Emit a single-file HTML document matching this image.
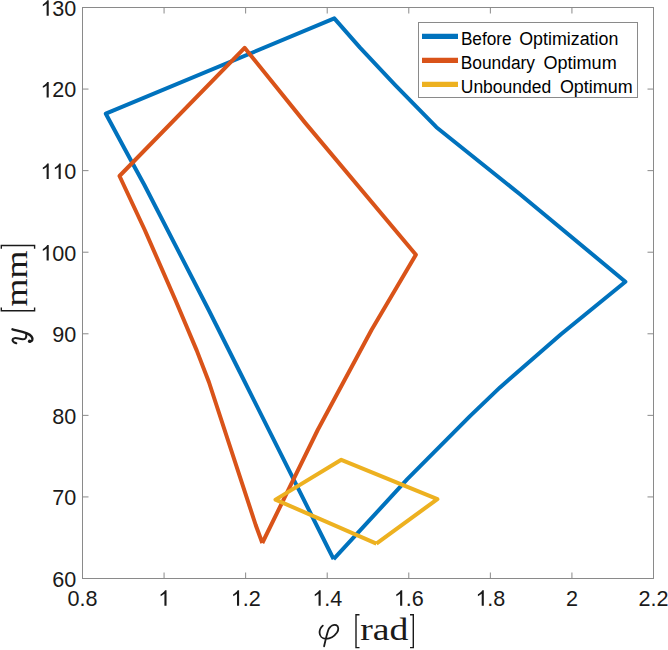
<!DOCTYPE html>
<html><head><meta charset="utf-8">
<style>
html,body{margin:0;padding:0;background:#fff;}
body{width:668px;height:650px;overflow:hidden;position:relative;}
svg{position:absolute;left:0;top:0;}
.t{font-family:"Liberation Sans",sans-serif;font-size:21.6px;fill:#1a1a1a;}
.lg{font-family:"Liberation Sans",sans-serif;font-size:18px;fill:#000;}
.lx{font-family:"Liberation Serif",serif;font-size:32px;fill:#1a1a1a;}
</style></head>
<body>
<svg width="668" height="650" viewBox="0 0 668 650">

<g fill="none" stroke-width="4" stroke-linejoin="round" stroke-linecap="butt">
<path stroke="#0072BD" d="M333.6,559.2 L407.3,479.2 470,416.1 500,387.4 561,334.3 625.4,281.7 520,194.3 436.4,127.2 395,84.8 360,47.6 334.3,18.4 105.8,113.7 125.3,150 144.4,185 208.7,310 243.8,380 329,550 333.6,559.2"/>
<path stroke="#D95319" d="M262.3,543 L317.7,430 371.5,330 415.9,254.7 305,122.6 244.6,47.8 119.5,176 145,230.5 175.4,300 196.7,350.4 208.9,382 255.7,525 262.3,543"/>
<path stroke="#EDB120" d="M376.4,543.6 L437.4,499.1 341.3,459.8 275.5,499.6 376.4,543.6"/>
</g>
<g stroke="#8a8a8a" stroke-width="1" fill="none"><rect x="82.5" y="7.5" width="571.0" height="571.0"/><path d="M164.07,578.5v-6M164.07,7.5v6M245.64,578.5v-6M245.64,7.5v6M327.21,578.5v-6M327.21,7.5v6M408.79,578.5v-6M408.79,7.5v6M490.36,578.5v-6M490.36,7.5v6M571.93,578.5v-6M571.93,7.5v6M82.5,496.93h6M653.5,496.93h-6M82.5,415.36h6M653.5,415.36h-6M82.5,333.79h6M653.5,333.79h-6M82.5,252.21h6M653.5,252.21h-6M82.5,170.64h6M653.5,170.64h-6M82.5,89.07h6M653.5,89.07h-6"/></g>
<text class="t" x="67.49" y="605.80">0.8</text>
<text class="t" x="158.06" y="605.80">&#8199;</text>
<path d="M803,0L603,0L603,1140C540,1080 420,1000 243,911L243,1085C360,1140 540,1280 666,1472L803,1472Z" fill="#1a1a1a" transform="translate(158.06,605.80) scale(0.010547,-0.010547)"/>
<text class="t" x="230.63" y="605.80">&#8199;.2</text>
<path d="M803,0L603,0L603,1140C540,1080 420,1000 243,911L243,1085C360,1140 540,1280 666,1472L803,1472Z" fill="#1a1a1a" transform="translate(230.63,605.80) scale(0.010547,-0.010547)"/>
<text class="t" x="312.20" y="605.80">&#8199;.4</text>
<path d="M803,0L603,0L603,1140C540,1080 420,1000 243,911L243,1085C360,1140 540,1280 666,1472L803,1472Z" fill="#1a1a1a" transform="translate(312.20,605.80) scale(0.010547,-0.010547)"/>
<text class="t" x="393.77" y="605.80">&#8199;.6</text>
<path d="M803,0L603,0L603,1140C540,1080 420,1000 243,911L243,1085C360,1140 540,1280 666,1472L803,1472Z" fill="#1a1a1a" transform="translate(393.77,605.80) scale(0.010547,-0.010547)"/>
<text class="t" x="475.34" y="605.80">&#8199;.8</text>
<path d="M803,0L603,0L603,1140C540,1080 420,1000 243,911L243,1085C360,1140 540,1280 666,1472L803,1472Z" fill="#1a1a1a" transform="translate(475.34,605.80) scale(0.010547,-0.010547)"/>
<text class="t" x="565.92" y="605.80">2</text>
<text class="t" x="638.49" y="605.80">2.2</text>
<text class="t" x="52.27" y="586.84">60</text>
<text class="t" x="52.27" y="505.27">70</text>
<text class="t" x="52.27" y="423.70">80</text>
<text class="t" x="52.27" y="342.13">90</text>
<text class="t" x="40.26" y="260.55">&#8199;00</text>
<path d="M803,0L603,0L603,1140C540,1080 420,1000 243,911L243,1085C360,1140 540,1280 666,1472L803,1472Z" fill="#1a1a1a" transform="translate(40.26,260.55) scale(0.010547,-0.010547)"/>
<text class="t" x="40.26" y="178.98">&#8199;&#8199;0</text>
<path d="M803,0L603,0L603,1140C540,1080 420,1000 243,911L243,1085C360,1140 540,1280 666,1472L803,1472Z" fill="#1a1a1a" transform="translate(40.26,178.98) scale(0.010547,-0.010547)"/>
<path d="M803,0L603,0L603,1140C540,1080 420,1000 243,911L243,1085C360,1140 540,1280 666,1472L803,1472Z" fill="#1a1a1a" transform="translate(52.27,178.98) scale(0.010547,-0.010547)"/>
<text class="t" x="40.26" y="97.41">&#8199;20</text>
<path d="M803,0L603,0L603,1140C540,1080 420,1000 243,911L243,1085C360,1140 540,1280 666,1472L803,1472Z" fill="#1a1a1a" transform="translate(40.26,97.41) scale(0.010547,-0.010547)"/>
<text class="t" x="40.26" y="15.84">&#8199;30</text>
<path d="M803,0L603,0L603,1140C540,1080 420,1000 243,911L243,1085C360,1140 540,1280 666,1472L803,1472Z" fill="#1a1a1a" transform="translate(40.26,15.84) scale(0.010547,-0.010547)"/>
<path fill="none" stroke="#1a1a1a" stroke-width="1.8" stroke-linecap="round" d="M322.8,625.6 C320.6,627.6 319.4,630.4 319.6,633 C319.8,636 322.2,638.7 325.6,638.8 C330,638.9 334.5,636 337,632.5 C338.8,629.8 338.8,626.3 336.2,625.2 C333.5,624.2 330.5,626 329,628.5 C327.3,631.5 326.3,637 324.1,646.3"/>
<text class="lx" x="360.24" y="639.5" textLength="48.22" lengthAdjust="spacingAndGlyphs">rad</text>
<g fill="none" stroke="#1a1a1a" stroke-width="1.4">
<path d="M359.5,614.8H356V647.6H359.5"/>
<path d="M410,614.8H413.3V647.6H410"/>
<path d="M1.3,307.5V310.8H34.6V307.5"/>
<path d="M1.3,248.8V245.5H34.6V248.8"/>
</g>
<g transform="translate(26.9,305.8) rotate(-90)"><text class="lx" x="-0.75" y="0" textLength="55.92" lengthAdjust="spacingAndGlyphs">mm</text></g>
<g fill="none" stroke="#1a1a1a" stroke-width="2" stroke-linecap="round">
<path stroke-width="2.4" d="M12.5,329.3 C17,330.5 22,331.5 27,333.3 C31,335 32.8,337.5 32.3,339.8 C31.8,341.3 30.5,341.8 29.6,341.4"/>
<path d="M16.3,343.3 C14,342.5 12.3,341.5 12.5,339.8 C12.8,337.8 15.5,337.8 18.5,338.5 C21.5,339.3 24,340 25.5,338.3 C26.6,337 26.5,335.5 26.2,333.5"/>
</g>
<circle cx="29.6" cy="341.2" r="1.7" fill="#1a1a1a"/>
<rect x="418.5" y="22.5" width="219" height="75" fill="#fff" stroke="#8a8a8a" stroke-width="1"/>
<g stroke-width="5.3" fill="none">
<path d="M422,36.4H458" stroke="#0072BD"/>
<path d="M422,60.3H458" stroke="#D95319"/>
<path d="M422,84.3H458" stroke="#EDB120"/>
</g>
<g class="lg">
<text x="460.89" y="44.5" textLength="50.78" lengthAdjust="spacingAndGlyphs">Before</text>
<text x="519.26" y="44.5" textLength="99.10" lengthAdjust="spacingAndGlyphs">Optimization</text>
<text x="460.68" y="68.6" textLength="74.36" lengthAdjust="spacingAndGlyphs">Boundary</text>
<text x="543.44" y="68.6" textLength="73.25" lengthAdjust="spacingAndGlyphs">Optimum</text>
<text x="460.75" y="92.6" textLength="90.48" lengthAdjust="spacingAndGlyphs">Unbounded</text>
<text x="559.95" y="92.6" textLength="72.63" lengthAdjust="spacingAndGlyphs">Optimum</text>
</g>
</svg>
</body></html>
